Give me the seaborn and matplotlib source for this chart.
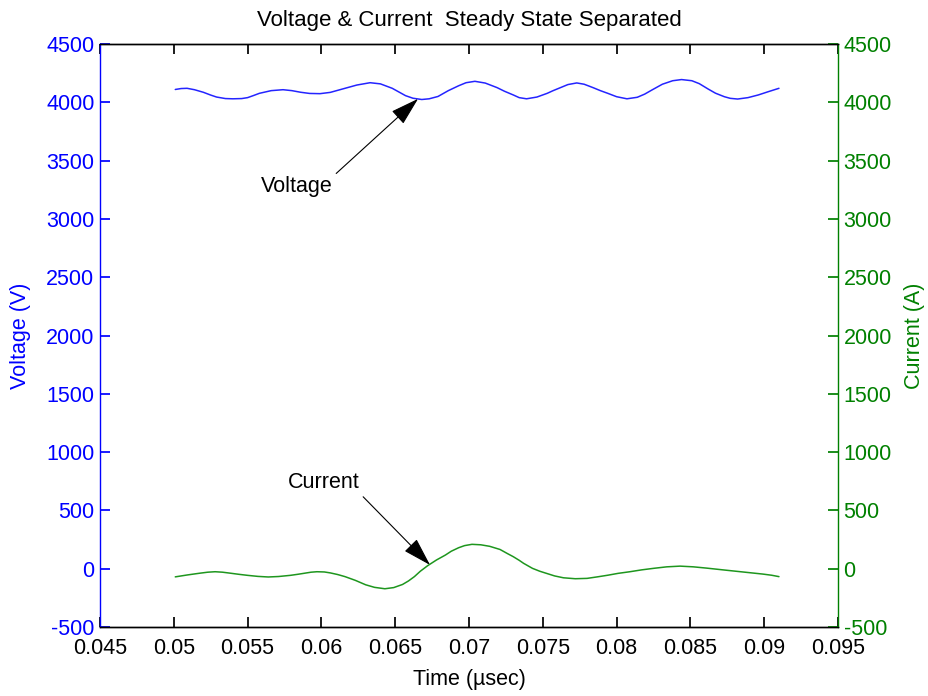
import matplotlib
matplotlib.use("Agg")
import matplotlib.pyplot as plt
import seaborn as sns
import pandas as pd

# ---- data ----
volt_t = [0.0501, 0.0505, 0.0509, 0.0514, 0.0520, 0.0525, 0.0529, 0.0535, 0.0540, 0.0546,
          0.0550, 0.0554, 0.0558, 0.0566, 0.0574, 0.0580, 0.0586, 0.0592, 0.0599, 0.0606,
          0.0616, 0.0624, 0.0633, 0.0640, 0.0648, 0.0653, 0.0657, 0.0662, 0.0668, 0.0673,
          0.0679, 0.0686, 0.0693, 0.0698, 0.0704, 0.0711, 0.0719, 0.0724, 0.0730, 0.0734,
          0.0739, 0.0746, 0.0753, 0.0757, 0.0762, 0.0767, 0.0773, 0.0778, 0.0784, 0.0789,
          0.0794, 0.0800, 0.0807, 0.0814, 0.0819, 0.0824, 0.0831, 0.0838, 0.0844, 0.0851,
          0.0856, 0.0862, 0.0867, 0.0873, 0.0877, 0.0882, 0.0889, 0.0896, 0.0903, 0.0910]
volt_v = [4110, 4118, 4120, 4108, 4086, 4062, 4045, 4032, 4030, 4032,
          4040, 4058, 4077, 4100, 4108, 4100, 4086, 4076, 4074, 4085,
          4120, 4148, 4168, 4158, 4120, 4085, 4057, 4035, 4024, 4030,
          4050, 4100, 4142, 4168, 4180, 4165, 4126, 4095, 4063, 4040,
          4030, 4045, 4077, 4100, 4126, 4152, 4166, 4155, 4126, 4100,
          4077, 4048, 4030, 4043, 4070, 4106, 4155, 4185, 4195, 4185,
          4160, 4114, 4078, 4048, 4034, 4028, 4040, 4063, 4092, 4120]

curr_t = [0.0501, 0.0505, 0.0509, 0.0514, 0.0518, 0.0523, 0.0528, 0.0533, 0.0538, 0.0544,
          0.0550, 0.0557, 0.0564, 0.0571, 0.0579, 0.0584, 0.0588, 0.0593, 0.0597, 0.0602,
          0.0606, 0.0611, 0.0616, 0.0623, 0.0630, 0.0636, 0.0643, 0.0649, 0.0655, 0.0659,
          0.0663, 0.0667, 0.0672, 0.0678, 0.0684, 0.0688, 0.0693, 0.0697, 0.0702, 0.0708,
          0.0714, 0.0721, 0.0726, 0.0730, 0.0734, 0.0737, 0.0743, 0.0748, 0.0753, 0.0758,
          0.0764, 0.0772, 0.0780, 0.0787, 0.0794, 0.0801, 0.0809, 0.0817, 0.0825, 0.0834,
          0.0843, 0.0852, 0.0861, 0.0872, 0.0884, 0.0893, 0.0899, 0.0905, 0.0910]
curr_a = [-70, -62, -54, -45, -38, -30, -26, -30, -38, -48,
          -57, -66, -71, -67, -57, -48, -40, -30, -26, -28,
          -36, -50, -68, -100, -138, -160, -172, -162, -135, -105,
          -68, -22, 26, 75, 117, 150, 180, 198, 209, 205,
          192, 165, 130, 103, 72, 46, 3, -22, -42, -62,
          -78, -86, -83, -70, -56, -40, -26, -10, 3, 16,
          22, 16, 5, -10, -26, -38, -46, -56, -68]

x_ticks = [0.045, 0.05, 0.055, 0.06, 0.065, 0.07, 0.075, 0.08, 0.085, 0.09, 0.095]
x_tick_labels = ["0.045", "0.05", "0.055", "0.06", "0.065", "0.07", "0.075", "0.08",
                 "0.085", "0.09", "0.095"]
y_ticks = [-500, 0, 500, 1000, 1500, 2000, 2500, 3000, 3500, 4000, 4500]
y_tick_labels = [str(v) for v in y_ticks]

title = "Voltage & Current  Steady State Separated"
x_label = "Time (\u00b5sec)"
left_label = "Voltage (V)"
right_label = "Current (A)"

BLUE = "#0000ff"
GREEN = "#008000"

sns.set_theme(style="ticks")
plt.rcParams["font.family"] = ["Liberation Sans", "DejaVu Sans"]
plt.rcParams["axes.linewidth"] = 1.0
plt.rcParams["text.color"] = "black"

fig = plt.figure(figsize=(9.29, 6.96), dpi=100)
ax = fig.add_axes([100 / 929, 1 - 627 / 696, 738 / 929, 583 / 696])
ax2 = ax.twinx()

df_v = pd.DataFrame({"t": volt_t, "v": volt_v})
df_c = pd.DataFrame({"t": curr_t, "a": curr_a})
sns.lineplot(data=df_v, x="t", y="v", ax=ax, color="#2424ff", lw=1.1)
sns.lineplot(data=df_c, x="t", y="a", ax=ax2, color="#1e961e", lw=1.1)

fs = 15.5
for a in (ax, ax2):
    a.set_xlim(0.045, 0.095)
    a.set_ylim(-500, 4500)
    a.set_yticks(y_ticks)

ax.set_xticks(x_ticks)
ax.set_xticklabels(x_tick_labels, fontsize=fs)
ax.set_yticklabels(y_tick_labels, fontsize=fs, color=BLUE)
ax2.set_yticklabels(y_tick_labels, fontsize=fs, color=GREEN)

ax.tick_params(axis="x", direction="in", length=7, top=True, bottom=True, colors="black", pad=8)
ax.tick_params(axis="y", direction="in", length=7, left=True, right=False, colors=BLUE,
               labelcolor=BLUE, pad=4)
ax2.tick_params(axis="y", direction="in", length=7, right=True, left=False, colors=GREEN,
                labelcolor=GREEN, pad=4)
ax2.tick_params(axis="x", top=False, bottom=False)

for a in (ax, ax2):
    a.spines["top"].set_visible(True)
    a.spines["right"].set_visible(True)
    a.spines["top"].set_color("black")
    a.spines["bottom"].set_color("black")
ax.spines["left"].set_color(BLUE)
ax.spines["right"].set_visible(False)
ax2.spines["left"].set_visible(False)
ax2.spines["right"].set_color(GREEN)

ax.set_xlabel(x_label, fontsize=fs, color="black")
ax.xaxis.set_label_coords(0.5, -0.072)
ax.set_ylabel(left_label, fontsize=fs, color=BLUE)
ax.yaxis.set_label_coords(-0.094, 0.5)
ax2.set_ylabel(right_label, fontsize=fs, color=GREEN)
ax2.yaxis.set_label_coords(1.089, 0.5)
ax.set_title(title, fontsize=fs + 0.5, color="black", pad=13)

arrow_v = dict(arrowstyle="-|>,head_length=1.0,head_width=0.3", color="black",
               lw=0.8, mutation_scale=18, shrinkA=0, shrinkB=0, relpos=(1.0, 1.0))
arrow_c = dict(arrowstyle="-|>,head_length=1.0,head_width=0.3", color="black",
               lw=0.8, mutation_scale=18, shrinkA=0, shrinkB=0, relpos=(1.0, 0.0))
ax.annotate("Voltage", xy=(0.06655, 4030), xytext=(0.05835, 3274), fontsize=fs,
            color="black", ha="center", va="center", arrowprops=arrow_v)
ax.annotate("Current", xy=(0.06736, 32), xytext=(0.06018, 735), fontsize=fs,
            color="black", ha="center", va="center", arrowprops=arrow_c)

fig.savefig("out.png", dpi=100, facecolor="white")
